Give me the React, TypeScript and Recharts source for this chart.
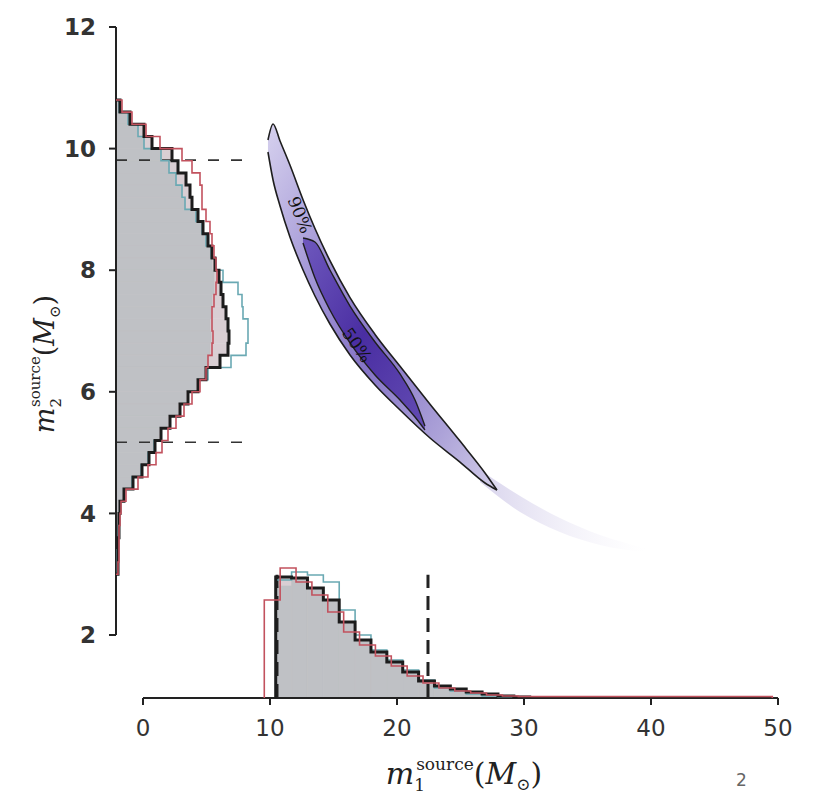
import React from 'react';
import { ComposedChart, XAxis, YAxis, Area, Scatter, ReferenceArea, ReferenceLine, ReferenceDot } from 'recharts';

// axis ranges (the spines are offset like the matplotlib original)
const X_MIN = -2.126;
const X_MAX = 50;
const Y_MIN = 0.964;
const Y_MAX = 12;
const X_TICKS = [0, 10, 20, 30, 40, 50];
const Y_TICKS = [2, 4, 6, 8, 10, 12];

// marginal of m2 (drawn sideways), bins of 0.2 from 10.8 downwards
const M2_TOP = 10.8;
const M2_BIN = 0.2;
const M2_SCALE = 1 / 12.7;
const m2Black = [4, 14, 28, 36, 56, 62, 70, 74, 76, 82, 87, 92, 96, 99, 103, 105, 107, 110, 112, 113, 112, 104, 90, 82, 72, 64, 54, 45, 39, 33, 26, 17, 8, 4, 3, 3, 2, 2, 2];
const m2Red = [6, 16, 30, 44, 66, 76, 84, 86, 86, 90, 94, 96, 98, 100, 101, 100, 98, 96, 96, 97, 96, 92, 90, 84, 76, 68, 60, 52, 46, 40, 32, 22, 10, 5, 4, 3, 3, 3, 2];
const m2Teal = [3, 12, 22, 28, 45, 53, 60, 66, 69, 80, 86, 90, 95, 100, 107, 122, 126, 127, 132, 132, 130, 115, 92, 82, 72, 64, 54, 45, 38, 32, 25, 16, 8, 4, 3, 2, 2, 1, 1];
const m2Fill = [3, 12, 22, 28, 45, 53, 60, 66, 69, 80, 86, 90, 94, 96, 98, 98, 96, 95, 94, 95, 94, 92, 88, 80, 70, 62, 52, 43, 37, 31, 24, 15, 7, 3, 2, 2, 1, 1, 1];

// marginal of m1, bins of 1.25
const M1_BIN = 1.25;
const M1_START = 10.45;
const M1_RED_START = 9.55;
const M1_SCALE = 1 / 60.8;
const m1Black = [121, 120, 110, 98, 76, 58, 46, 36, 26, 17, 12, 9, 6, 4, 2, 1];
const m1Teal = [118, 126, 123, 116, 88, 63, 48, 38, 28, 18, 10, 7, 4, 2, 1];
const m1Red = [98, 130, 116, 103, 86, 66, 53, 42, 32, 22, 15, 10, 7, 5, 3, 2, 1.5, 1.5, 1.5, 1.5, 1.5, 1.5, 1.5, 1.5, 1.5, 1.5, 1.5, 1.5, 1.5, 1.5, 1.5, 1.5];
const m1Fill = [112, 119, 110, 98, 76, 58, 46, 36, 26, 17, 10, 7, 4, 2, 1];

// 2D credible regions: m1 -> [m2 low, m2 high]
const contour90 = [
  { x: 9.84, lo: 9.944, hi: 10.141 },
  { x: 10.24, lo: 9.484, hi: 10.405 },
  { x: 10.79, lo: 9.056, hi: 10.125 },
  { x: 11.57, lo: 8.546, hi: 9.73 },
  { x: 12.6, lo: 8.003, hi: 9.16 },
  { x: 13.54, lo: 7.576, hi: 8.686 },
  { x: 14.72, lo: 7.115, hi: 8.156 },
  { x: 16.3, lo: 6.605, hi: 7.549 },
  { x: 18.27, lo: 6.112, hi: 6.944 },
  { x: 20.24, lo: 5.701, hi: 6.419 },
  { x: 22.6, lo: 5.24, hi: 5.796 },
  { x: 24.96, lo: 4.845, hi: 5.189 },
  { x: 26.93, lo: 4.5, hi: 4.666 },
  { x: 27.87, lo: 4.385, hi: 4.385 },
];
const contour50 = [
  { x: 12.6, lo: 8.447, hi: 8.53 },
  { x: 13.54, lo: 7.872, hi: 8.464 },
  { x: 14.72, lo: 7.345, hi: 8.003 },
  { x: 16.3, lo: 6.803, hi: 7.411 },
  { x: 18.27, lo: 6.276, hi: 6.819 },
  { x: 20.24, lo: 5.865, hi: 6.293 },
  { x: 21.42, lo: 5.586, hi: 5.865 },
  { x: 22.2, lo: 5.372, hi: 5.438 },
];
const posteriorTail = [
  { x: 26.54, lo: 4.516, hi: 4.714 },
  { x: 29.69, lo: 4.023, hi: 4.286 },
  { x: 32.83, lo: 3.694, hi: 3.924 },
  { x: 35.98, lo: 3.48, hi: 3.645 },
  { x: 39.53, lo: 3.365, hi: 3.431 },
];
const contourLabels = [
  { x: 12.36, y: 8.91, text: '90%', angle: 68 },
  { x: 16.85, y: 6.77, text: '50%', angle: 55 },
];

// 90% intervals of the marginals
const m1Interval = [10.55, 22.44];
const m2Interval = [5.17, 9.81];
const M1_DASH_TOP = 2.99;
const M2_DASH_END = 8.03;

const band = (rows: { x: number; lo: number; hi: number }[]) => rows.map((r) => ({ x: r.x, band: [r.lo, r.hi] }));

const sideSteps = (counts: number[]) => {
  const pts = [{ x: X_MIN, y: M2_TOP }];
  counts.forEach((c, k) => {
    const top = M2_TOP - k * M2_BIN;
    pts.push({ x: X_MIN + c * M2_SCALE, y: top }, { x: X_MIN + c * M2_SCALE, y: top - M2_BIN });
  });
  pts.push({ x: X_MIN, y: M2_TOP - counts.length * M2_BIN });
  return pts;
};

const upSteps = (counts: number[], start: number) => {
  const pts = [{ x: start, y: Y_MIN }];
  counts.forEach((c, k) => {
    const lo = start + k * M1_BIN;
    pts.push({ x: lo, y: Y_MIN + c * M1_SCALE }, { x: lo + M1_BIN, y: Y_MIN + c * M1_SCALE });
  });
  pts.push({ x: start + counts.length * M1_BIN, y: Y_MIN });
  return pts;
};

const noDot = () => <g />;

function MassLabel({ x, y, idx, vertical, big, small }: any) {
  return (
    <text
      x={x}
      y={y}
      fontFamily="DejaVu Serif"
      fontSize={big}
      fill="#222"
      textAnchor="middle"
      transform={vertical ? `rotate(-90 ${x} ${y})` : undefined}
    >
      <tspan fontStyle="italic">m</tspan>
      <tspan fontSize={small} dy={7}>{idx}</tspan>
      <tspan fontSize={small} dx={-9} dy={-21}>source</tspan>
      <tspan dy={14}>(</tspan>
      <tspan fontStyle="italic">M</tspan>
      <tspan fontSize={small} dy={6}>⊙</tspan>
      <tspan dy={-6}>)</tspan>
    </text>
  );
}

const tickFont = { fontFamily: 'DejaVu Sans', fontSize: 23, fill: '#333' };

export default function App() {
  return (
    <div style={{ position: 'absolute', left: 0, top: 0, background: '#fff' }}>
      <ComposedChart width={821} height={797} margin={{ top: 27, right: 43, bottom: 19, left: 16 }}>
        <defs>
          <linearGradient id="g90" x1="0" y1="0" x2="1" y2="1">
            <stop offset="0" stopColor="#d6d1ee" />
            <stop offset="0.3" stopColor="#a397d6" />
            <stop offset="0.55" stopColor="#8574c6" />
            <stop offset="0.8" stopColor="#aca2d8" />
            <stop offset="1" stopColor="#d3cee9" />
          </linearGradient>
          <linearGradient id="g50" x1="0" y1="0" x2="1" y2="1">
            <stop offset="0" stopColor="#6e58bd" />
            <stop offset="0.5" stopColor="#4a2ea2" />
            <stop offset="1" stopColor="#634cb3" />
          </linearGradient>
          <linearGradient id="gTail" x1="0" y1="0" x2="1" y2="0">
            <stop offset="0" stopColor="#cbc5e6" stopOpacity={0.75} />
            <stop offset="1" stopColor="#ece9f6" stopOpacity={0} />
          </linearGradient>
        </defs>
        <XAxis
          type="number"
          dataKey="x"
          domain={[X_MIN, X_MAX]}
          ticks={X_TICKS}
          allowDataOverflow
          axisLine={false}
          tickLine={{ stroke: '#222', strokeWidth: 2 }}
          tickSize={7}
          tickMargin={15}
          tick={tickFont}
          height={80}
          label={{ content: (p: any) => <MassLabel x={p.viewBox.x + 348} y={784} idx="1" big={30} small={17} /> }}
        />
        <YAxis
          type="number"
          dataKey="y"
          domain={[Y_MIN, Y_MAX]}
          ticks={Y_TICKS}
          allowDataOverflow
          axisLine={false}
          tickLine={{ stroke: '#222', strokeWidth: 2 }}
          tickSize={7}
          tickMargin={13}
          tick={{ ...tickFont, fontWeight: 'bold' }}
          width={100}
          label={{ content: () => <MassLabel x={54} y={364} idx="2" vertical big={27} small={15} /> }}
        />

        {m2Black.map((c, k) => (
          <ReferenceArea key={`m2b${k}`} x1={X_MIN} x2={X_MIN + c * M2_SCALE} y1={M2_TOP - (k + 1) * M2_BIN} y2={M2_TOP - k * M2_BIN}
            fill="#d9ced3" fillOpacity={1} stroke="#d9ced3" strokeWidth={0.6} ifOverflow="visible" />
        ))}
        {m2Fill.map((c, k) => (
          <ReferenceArea key={`m2f${k}`} x1={X_MIN} x2={X_MIN + c * M2_SCALE} y1={M2_TOP - (k + 1) * M2_BIN} y2={M2_TOP - k * M2_BIN}
            fill="#bfc1c5" fillOpacity={1} stroke="#bfc1c5" strokeWidth={0.6} ifOverflow="visible" />
        ))}
        {m1Black.map((c, k) => (
          <ReferenceArea key={`m1b${k}`} x1={M1_START + k * M1_BIN} x2={M1_START + (k + 1) * M1_BIN} y1={Y_MIN} y2={Y_MIN + c * M1_SCALE}
            fill="#d9ced3" fillOpacity={1} stroke="#d9ced3" strokeWidth={0.6} ifOverflow="visible" />
        ))}
        {m1Fill.map((c, k) => (
          <ReferenceArea key={`m1f${k}`} x1={M1_START + k * M1_BIN} x2={M1_START + (k + 1) * M1_BIN} y1={Y_MIN} y2={Y_MIN + c * M1_SCALE}
            fill="#bfc1c5" fillOpacity={1} stroke="#bfc1c5" strokeWidth={0.6} ifOverflow="visible" />
        ))}

        <Area data={band(posteriorTail)} dataKey="band" type="monotone" fill="url(#gTail)" fillOpacity={1} stroke="none" isAnimationActive={false} />
        <Area data={band(contour90)} dataKey="band" type="monotone" fill="url(#g90)" fillOpacity={1} stroke="#1e1e1e" strokeWidth={1.6} isAnimationActive={false} />
        <Area data={band(contour50)} dataKey="band" type="monotone" fill="url(#g50)" fillOpacity={1} stroke="#1e1e1e" strokeWidth={1.4} isAnimationActive={false} />

        <ReferenceLine segment={[{ x: X_MIN, y: m2Interval[1] }, { x: M2_DASH_END, y: m2Interval[1] }]} stroke="#333" strokeWidth={1.6} strokeDasharray="11 12" ifOverflow="visible" />
        <ReferenceLine segment={[{ x: X_MIN, y: m2Interval[0] }, { x: M2_DASH_END, y: m2Interval[0] }]} stroke="#333" strokeWidth={1.6} strokeDasharray="11 12" ifOverflow="visible" />

        <Scatter data={sideSteps(m2Teal)} line={{ stroke: '#6aa9b3', strokeWidth: 1.6 }} shape={noDot} isAnimationActive={false} />
        <Scatter data={sideSteps(m2Black)} line={{ stroke: '#1c1c1c', strokeWidth: 3 }} shape={noDot} isAnimationActive={false} />
        <Scatter data={sideSteps(m2Red)} line={{ stroke: '#c2525e', strokeWidth: 1.6 }} shape={noDot} isAnimationActive={false} />
        <Scatter data={upSteps(m1Teal, M1_START)} line={{ stroke: '#6aa9b3', strokeWidth: 1.6 }} shape={noDot} isAnimationActive={false} />
        <Scatter data={upSteps(m1Black, M1_START)} line={{ stroke: '#1c1c1c', strokeWidth: 3 }} shape={noDot} isAnimationActive={false} />
        <Scatter data={upSteps(m1Red, M1_RED_START)} line={{ stroke: '#c2525e', strokeWidth: 1.6 }} shape={noDot} isAnimationActive={false} />

        <ReferenceLine segment={[{ x: m1Interval[0], y: Y_MIN }, { x: m1Interval[0], y: M1_DASH_TOP }]} stroke="#222" strokeWidth={3} strokeDasharray="14 8" ifOverflow="visible" />
        <ReferenceLine segment={[{ x: m1Interval[1], y: Y_MIN }, { x: m1Interval[1], y: M1_DASH_TOP }]} stroke="#222" strokeWidth={3} strokeDasharray="14 8" ifOverflow="visible" />

        <ReferenceLine segment={[{ x: X_MIN, y: 2 }, { x: X_MIN, y: Y_MAX }]} stroke="#222" strokeWidth={2} ifOverflow="visible" />
        <ReferenceLine segment={[{ x: 0, y: Y_MIN }, { x: X_MAX, y: Y_MIN }]} stroke="#222" strokeWidth={2} ifOverflow="visible" />

        {contourLabels.map((l) => (
          <ReferenceDot
            key={l.text}
            x={l.x}
            y={l.y}
            r={0}
            ifOverflow="visible"
            shape={(p: any) => (
              <text x={p.cx} y={p.cy} transform={`rotate(${l.angle} ${p.cx} ${p.cy})`} textAnchor="middle" dominantBaseline="central"
                fontFamily="DejaVu Serif" fontSize={17} fill="#111">
                {l.text}
              </text>
            )}
          />
        ))}
      </ComposedChart>
      <div style={{ position: 'absolute', left: 736, top: 770, fontFamily: 'DejaVu Sans', fontSize: 17, lineHeight: '20px', color: '#666' }}>2</div>
    </div>
  );
}
